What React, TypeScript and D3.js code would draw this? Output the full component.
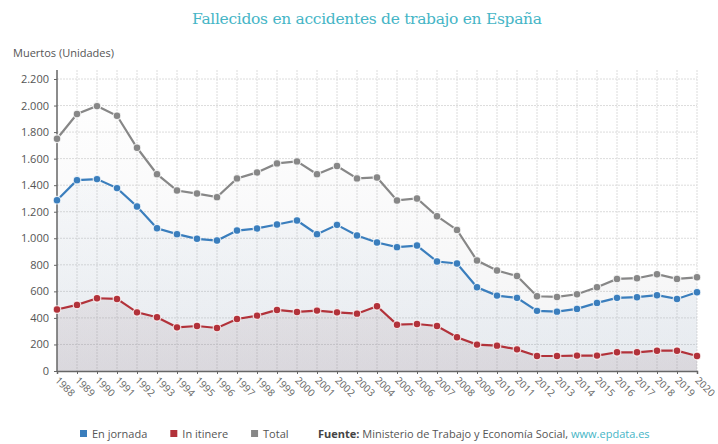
import React, { useEffect, useRef } from "react";
import * as d3 from "d3";

const years = [
  1988, 1989, 1990, 1991, 1992, 1993, 1994, 1995, 1996, 1997, 1998, 1999, 2000,
  2001, 2002, 2003, 2004, 2005, 2006, 2007, 2008, 2009, 2010, 2011, 2012, 2013,
  2014, 2015, 2016, 2017, 2018, 2019, 2020,
];

const enJornada = [
  1287, 1438, 1446, 1378, 1239, 1076, 1031, 996, 983, 1058, 1074, 1104, 1134,
  1031, 1101, 1021, 968, 933, 945, 825, 810, 631, 568, 551, 453, 447, 468, 513,
  551, 556, 571, 543, 593,
];

const inItinere = [
  463, 498, 548, 543, 442, 405, 329, 339, 324, 392, 417, 460, 445, 455, 442, 432,
  488, 349, 354, 339, 254, 199, 191, 163, 113, 113, 116, 116, 141, 141, 153, 153,
  113,
];

const total = [
  1750, 1936, 1996, 1923, 1682, 1483, 1360, 1337, 1310, 1451, 1496, 1564, 1579,
  1483, 1544, 1451, 1458, 1285, 1300, 1166, 1063, 832, 757, 716, 563, 558, 578,
  631, 694, 699, 729, 694, 706,
];

const yTicks = [0, 200, 400, 600, 800, 1000, 1200, 1400, 1600, 1800, 2000, 2200];

const seriesList = [
  { name: "Total", values: total, color: "#878787", fill: "#8a8a94", op: 0.1 },
  { name: "En jornada", values: enJornada, color: "#3a7ebd", fill: "#6f98c0", op: 0.1 },
  { name: "In itinere", values: inItinere, color: "#b2323a", fill: "#8f6870", op: 0.14 },
];

const legendItems = [
  { name: "En jornada", color: "#3a7ebd" },
  { name: "In itinere", color: "#b2323a" },
  { name: "Total", color: "#878787" },
];

export default function App() {
  const svgRef = useRef<SVGSVGElement>(null);

  useEffect(() => {
    const svg = d3.select(svgRef.current);
    svg.selectAll("*").remove();

    const width = 718;
    const height = 444;
    const left = 57;
    const right = 697;
    const bottom = 371;
    const top = 79;
    const font = "'Open Sans', 'Noto Sans', sans-serif";

    const x = d3.scaleLinear().domain([1988, 2020]).range([left, right]);
    const y = d3.scaleLinear().domain([0, 2200]).range([bottom, top]);

    svg.attr("width", width).attr("height", height);

    // gradientes de las áreas
    const defs = svg.append("defs");
    seriesList.forEach((s, i) => {
      const g = defs
        .append("linearGradient")
        .attr("id", `grad${i}`)
        .attr("gradientUnits", "userSpaceOnUse")
        .attr("x1", 0)
        .attr("x2", 0)
        .attr("y1", y(2000))
        .attr("y2", bottom);
      g.append("stop").attr("offset", "0%").attr("stop-color", s.fill).attr("stop-opacity", 0.01);
      g.append("stop").attr("offset", "100%").attr("stop-color", s.fill).attr("stop-opacity", s.op);
    });

    // título
    svg
      .append("text")
      .attr("x", 367)
      .attr("y", 24)
      .attr("text-anchor", "middle")
      .attr("fill", "#45b5c6")
      .attr("font-family", "'DejaVu Serif', serif")
      .attr("font-size", "15.5px")
      .attr("textLength", 350)
      .text("Fallecidos en accidentes de trabajo en España");

    svg
      .append("text")
      .attr("x", 13)
      .attr("y", 57)
      .attr("fill", "#555")
      .attr("font-family", font)
      .attr("font-size", "11px")
      .text("Muertos (Unidades)");

    // rejilla
    svg
      .append("g")
      .selectAll("line")
      .data(yTicks.slice(1))
      .enter()
      .append("line")
      .attr("x1", left)
      .attr("x2", right)
      .attr("y1", (d) => y(d))
      .attr("y2", (d) => y(d))
      .attr("stroke", "#dcdcdc")
      .attr("stroke-dasharray", "2,1");

    svg
      .append("g")
      .selectAll("line")
      .data(years.slice(1))
      .enter()
      .append("line")
      .attr("x1", (d) => x(d))
      .attr("x2", (d) => x(d))
      .attr("y1", 70)
      .attr("y2", bottom)
      .attr("stroke", "#dcdcdc")
      .attr("stroke-dasharray", "2,1");

    // áreas
    const area = d3
      .area<number>()
      .x((_, i) => x(years[i]))
      .y0(bottom)
      .y1((d) => y(d));

    seriesList.forEach((s, i) => {
      svg
        .append("path")
        .datum(s.values)
        .attr("d", area)
        .attr("fill", `url(#grad${i})`);
    });

    // ejes
    const yAxis = svg
      .append("g")
      .attr("transform", `translate(${left},0)`)
      .call(
        d3
          .axisLeft(y)
          .tickValues(yTicks)
          .tickSize(3)
          .tickFormat((d) => d3.format(",")(d as number).replace(/,/g, "."))
      );
    yAxis.select(".domain").attr("stroke", "#666").attr("stroke-width", 1.5).attr("d", `M0,70V${bottom}`);
    yAxis.selectAll(".tick line").attr("stroke", "#666");
    yAxis
      .selectAll("text")
      .attr("fill", "#555")
      .attr("font-family", font)
      .attr("font-size", "11px")
      .attr("x", -8);

    const xAxis = svg
      .append("g")
      .attr("transform", `translate(0,${bottom})`)
      .call(d3.axisBottom(x).tickValues(years).tickSize(3).tickFormat((d) => String(d)));
    xAxis.select(".domain").attr("stroke", "#666").attr("stroke-width", 1.5);
    xAxis.selectAll(".tick line").attr("stroke", "#666");
    xAxis
      .selectAll("text")
      .attr("fill", "#666")
      .attr("font-family", font)
      .attr("font-size", "10px")
      .attr("text-anchor", "start")
      .attr("dy", "0")
      .attr("y", 0)
      .attr("transform", "translate(-3,10) rotate(45)");

    // líneas y puntos
    const line = d3
      .line<number>()
      .x((_, i) => x(years[i]))
      .y((d) => y(d));

    seriesList.forEach((s) => {
      svg
        .append("path")
        .datum(s.values)
        .attr("d", line)
        .attr("fill", "none")
        .attr("stroke", s.color)
        .attr("stroke-width", 2.2);

      svg
        .append("g")
        .selectAll("circle")
        .data(s.values)
        .enter()
        .append("circle")
        .attr("cx", (_, i) => x(years[i]))
        .attr("cy", (d) => y(d))
        .attr("r", 3.8)
        .attr("fill", s.color)
        .attr("stroke", "#fff")
        .attr("stroke-opacity", 0.8)
        .attr("stroke-width", 1.2);
    });

    // leyenda
    const legend = svg.append("g").attr("font-family", font).attr("font-size", "11px");
    let lx = 80;
    legendItems.forEach((it) => {
      legend.append("rect").attr("x", lx).attr("y", 430).attr("width", 7).attr("height", 7).attr("fill", it.color);
      const t = legend
        .append("text")
        .attr("x", lx + 12)
        .attr("y", 438)
        .attr("fill", "#555")
        .text(it.name);
      lx += 12 + (t.node() as SVGTextElement).getComputedTextLength() + 23;
    });

    const src = legend.append("text").attr("x", 318).attr("y", 438).attr("fill", "#444");
    src.append("tspan").attr("font-weight", "bold").text("Fuente:");
    src.append("tspan").attr("fill", "#555").text(" Ministerio de Trabajo y Economía Social, ");
    src.append("tspan").attr("fill", "#45b5c6").text("www.epdata.es");
  }, []);

  return (
    <div style={{ position: "absolute", left: 0, top: 0 }}>
      <svg ref={svgRef} style={{ display: "block" }} />
    </div>
  );
}
